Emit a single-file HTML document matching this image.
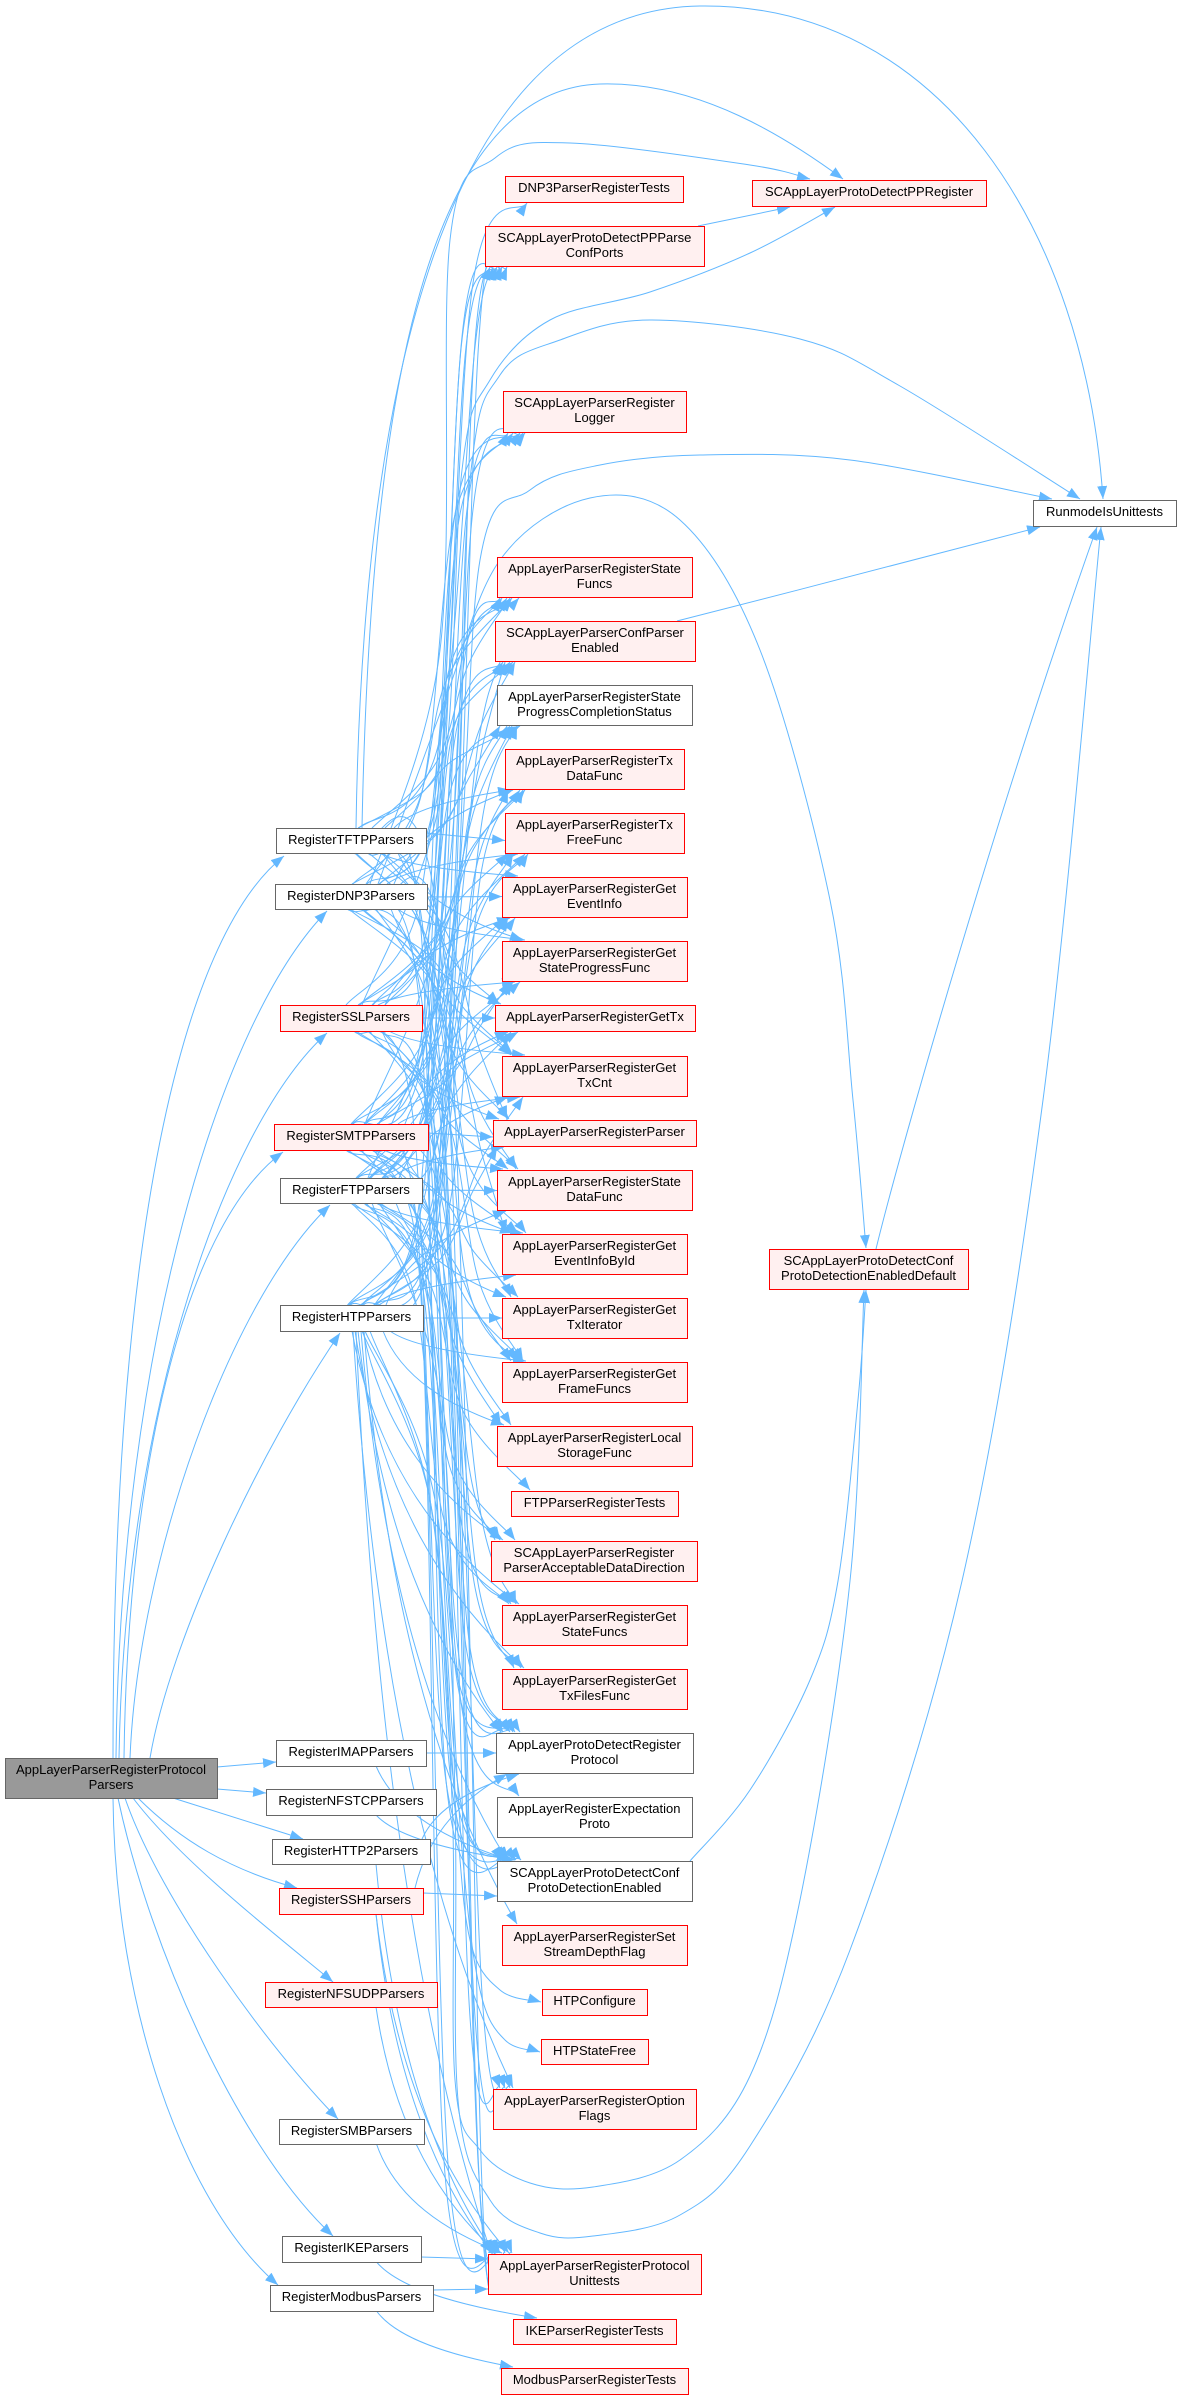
<!DOCTYPE html>
<html><head><meta charset="utf-8">
<style>
html,body{margin:0;padding:0;background:#fff;}
svg{display:block}
text{font-family:"Liberation Sans",Arial,sans-serif;font-size:13px;fill:#000}
.r{fill:#fff0f0;stroke:#ff0000;stroke-width:1}
.g{fill:#fff;stroke:#666;stroke-width:1}
.root{fill:#999;stroke:#666;stroke-width:1}
</style></head>
<body>
<svg id="svg" width="1181" height="2399" viewBox="0 0 1181 2399" xmlns="http://www.w3.org/2000/svg">
<defs><marker id="a" markerUnits="userSpaceOnUse" markerWidth="13" markerHeight="10" refX="13" refY="5" orient="auto"><path d="M0,0L13,5L0,10z" fill="#63b8ff"/></marker></defs>
<g id="edges" fill="none" stroke="#63b8ff" stroke-width="1"></g>
<g text-anchor="middle">
<rect class="root" x="5.5" y="1758.5" width="212" height="40"/><text x="111" y="1774">AppLayerParserRegisterProtocol</text><text x="111" y="1789">Parsers</text>

<rect class="g" x="276.5" y="828.5" width="150" height="25"/><text x="351" y="844">RegisterTFTPParsers</text>
<rect class="g" x="275.5" y="884.5" width="152" height="25"/><text x="351" y="900">RegisterDNP3Parsers</text>
<rect class="r" x="280.5" y="1005.5" width="142" height="26"/><text x="351" y="1021">RegisterSSLParsers</text>
<rect class="r" x="274.5" y="1124.5" width="154" height="26"/><text x="351" y="1140">RegisterSMTPParsers</text>
<rect class="g" x="280.5" y="1178.5" width="142" height="25"/><text x="351" y="1194">RegisterFTPParsers</text>
<rect class="g" x="280.5" y="1305.5" width="143" height="26"/><text x="351.5" y="1321">RegisterHTPParsers</text>
<rect class="g" x="276.5" y="1740.5" width="150" height="26"/><text x="351" y="1756">RegisterIMAPParsers</text>
<rect class="g" x="266.5" y="1789.5" width="170" height="26"/><text x="351" y="1805">RegisterNFSTCPParsers</text>
<rect class="g" x="272.5" y="1839.5" width="158" height="25"/><text x="351" y="1855">RegisterHTTP2Parsers</text>
<rect class="r" x="279.5" y="1888.5" width="144" height="26"/><text x="351" y="1904">RegisterSSHParsers</text>
<rect class="r" x="265.5" y="1982.5" width="172" height="25"/><text x="351" y="1998">RegisterNFSUDPParsers</text>
<rect class="g" x="279.5" y="2119.5" width="145" height="25"/><text x="351.5" y="2135">RegisterSMBParsers</text>
<rect class="g" x="282.5" y="2236.5" width="139" height="26"/><text x="351.5" y="2252">RegisterIKEParsers</text>
<rect class="g" x="270.5" y="2285.5" width="163" height="26"/><text x="351.5" y="2301">RegisterModbusParsers</text>

<rect class="r" x="505.5" y="176.5" width="178" height="26"/><text x="594" y="192">DNP3ParserRegisterTests</text>
<rect class="r" x="485.5" y="226.5" width="219" height="40"/><text x="594.5" y="242">SCAppLayerProtoDetectPPParse</text><text x="594.5" y="257">ConfPorts</text>
<rect class="r" x="503.5" y="391.5" width="183" height="41"/><text x="594.5" y="407">SCAppLayerParserRegister</text><text x="594.5" y="422">Logger</text>
<rect class="r" x="497.5" y="557.5" width="195" height="40"/><text x="594.5" y="573">AppLayerParserRegisterState</text><text x="594.5" y="588">Funcs</text>
<rect class="r" x="495.5" y="621.5" width="200" height="40"/><text x="595" y="637">SCAppLayerParserConfParser</text><text x="595" y="652">Enabled</text>
<rect class="g" x="497.5" y="685.5" width="195" height="40"/><text x="594.5" y="701">AppLayerParserRegisterState</text><text x="594.5" y="716">ProgressCompletionStatus</text>
<rect class="r" x="505.5" y="749.5" width="179" height="40"/><text x="594.5" y="765">AppLayerParserRegisterTx</text><text x="594.5" y="780">DataFunc</text>
<rect class="r" x="505.5" y="813.5" width="179" height="40"/><text x="594.5" y="829">AppLayerParserRegisterTx</text><text x="594.5" y="844">FreeFunc</text>
<rect class="r" x="502.5" y="877.5" width="185" height="40"/><text x="594.5" y="893">AppLayerParserRegisterGet</text><text x="594.5" y="908">EventInfo</text>
<rect class="r" x="502.5" y="941.5" width="185" height="40"/><text x="594.5" y="957">AppLayerParserRegisterGet</text><text x="594.5" y="972">StateProgressFunc</text>
<rect class="r" x="495.5" y="1005.5" width="200" height="26"/><text x="595" y="1021">AppLayerParserRegisterGetTx</text>
<rect class="r" x="502.5" y="1056.5" width="185" height="40"/><text x="594.5" y="1072">AppLayerParserRegisterGet</text><text x="594.5" y="1087">TxCnt</text>
<rect class="r" x="493.5" y="1120.5" width="203" height="26"/><text x="594.5" y="1136">AppLayerParserRegisterParser</text>
<rect class="r" x="497.5" y="1170.5" width="195" height="40"/><text x="594.5" y="1186">AppLayerParserRegisterState</text><text x="594.5" y="1201">DataFunc</text>
<rect class="r" x="502.5" y="1234.5" width="185" height="40"/><text x="594.5" y="1250">AppLayerParserRegisterGet</text><text x="594.5" y="1265">EventInfoById</text>
<rect class="r" x="502.5" y="1298.5" width="185" height="40"/><text x="594.5" y="1314">AppLayerParserRegisterGet</text><text x="594.5" y="1329">TxIterator</text>
<rect class="r" x="502.5" y="1362.5" width="185" height="40"/><text x="594.5" y="1378">AppLayerParserRegisterGet</text><text x="594.5" y="1393">FrameFuncs</text>
<rect class="r" x="497.5" y="1426.5" width="195" height="40"/><text x="594.5" y="1442">AppLayerParserRegisterLocal</text><text x="594.5" y="1457">StorageFunc</text>
<rect class="r" x="511.5" y="1491.5" width="167" height="25"/><text x="594.5" y="1507">FTPParserRegisterTests</text>
<rect class="r" x="491.5" y="1541.5" width="206" height="40"/><text x="594" y="1557">SCAppLayerParserRegister</text><text x="594" y="1572">ParserAcceptableDataDirection</text>
<rect class="r" x="502.5" y="1605.5" width="185" height="40"/><text x="594.5" y="1621">AppLayerParserRegisterGet</text><text x="594.5" y="1636">StateFuncs</text>
<rect class="r" x="502.5" y="1669.5" width="185" height="40"/><text x="594.5" y="1685">AppLayerParserRegisterGet</text><text x="594.5" y="1700">TxFilesFunc</text>
<rect class="g" x="496.5" y="1733.5" width="197" height="40"/><text x="594.5" y="1749">AppLayerProtoDetectRegister</text><text x="594.5" y="1764">Protocol</text>
<rect class="g" x="497.5" y="1797.5" width="195" height="40"/><text x="594.5" y="1813">AppLayerRegisterExpectation</text><text x="594.5" y="1828">Proto</text>
<rect class="g" x="497.5" y="1861.5" width="195" height="40"/><text x="594.5" y="1877">SCAppLayerProtoDetectConf</text><text x="594.5" y="1892">ProtoDetectionEnabled</text>
<rect class="r" x="502.5" y="1925.5" width="185" height="40"/><text x="594.5" y="1941">AppLayerParserRegisterSet</text><text x="594.5" y="1956">StreamDepthFlag</text>
<rect class="r" x="542.5" y="1989.5" width="105" height="26"/><text x="594.5" y="2005">HTPConfigure</text>
<rect class="r" x="541.5" y="2039.5" width="107" height="25"/><text x="594.5" y="2055">HTPStateFree</text>
<rect class="r" x="493.5" y="2089.5" width="203" height="40"/><text x="594.5" y="2105">AppLayerParserRegisterOption</text><text x="594.5" y="2120">Flags</text>
<rect class="r" x="488.5" y="2254.5" width="213" height="40"/><text x="594.5" y="2270">AppLayerParserRegisterProtocol</text><text x="594.5" y="2285">Unittests</text>
<rect class="r" x="513.5" y="2319.5" width="163" height="25"/><text x="594.5" y="2335">IKEParserRegisterTests</text>
<rect class="r" x="501.5" y="2368.5" width="187" height="26"/><text x="594.5" y="2384">ModbusParserRegisterTests</text>

<rect class="r" x="752.5" y="180.5" width="234" height="26"/><text x="869" y="196">SCAppLayerProtoDetectPPRegister</text>
<rect class="r" x="769.5" y="1249.5" width="199" height="40"/><text x="868.5" y="1265">SCAppLayerProtoDetectConf</text><text x="868.5" y="1280">ProtoDetectionEnabledDefault</text>
<rect class="g" x="1033.5" y="500.5" width="143" height="26"/><text x="1104.5" y="516">RunmodeIsUnittests</text>
</g>
</svg>
<script>
(function(){
var N={
R:[5,1758,217,1798],
TFTP:[276,828,426,853],DNP3:[275,884,427,909],SSL:[280,1005,422,1031],SMTP:[274,1124,428,1150],FTP:[280,1178,422,1203],HTP:[280,1305,423,1331],IMAP:[276,1740,426,1766],NFSTCP:[266,1789,436,1815],HTTP2:[272,1839,430,1864],SSH:[279,1888,423,1914],NFSUDP:[265,1982,437,2007],SMB:[279,2119,424,2144],IKE:[282,2236,421,2262],MOD:[270,2285,433,2311],
dt:[505,176,683,202],pc:[485,226,704,266],lg:[503,391,686,432],sf:[497,557,692,597],ce:[495,621,695,661],ps:[497,685,692,725],td:[505,749,684,789],tf:[505,813,684,853],ei:[502,877,687,917],sp:[502,941,687,981],gt:[495,1005,695,1031],tc:[502,1056,687,1096],rp:[493,1120,696,1146],sd:[497,1170,692,1210],eb:[502,1234,687,1274],ti:[502,1298,687,1338],ff:[502,1362,687,1402],ls:[497,1426,692,1466],ft:[511,1491,678,1516],ad:[491,1541,697,1581],gs:[502,1605,687,1645],tx:[502,1669,687,1709],dp:[496,1733,693,1773],ep:[497,1797,692,1837],cp:[497,1861,692,1901],sdf:[502,1925,687,1965],hc:[542,1989,647,2015],hs:[541,2039,648,2064],of:[493,2089,696,2129],pu:[488,2254,701,2294],it:[513,2319,676,2344],mt:[501,2368,688,2394]
};
var g=document.getElementById('edges');
var NS='http://www.w3.org/2000/svg';
function add(d){var p=document.createElementNS(NS,'path');p.setAttribute('d',d);p.setAttribute('marker-end','url(#a)');g.appendChild(p);}
function r(v){return Math.round(v*10)/10;}
function cr(p){var d='M'+r(p[0][0])+','+r(p[0][1]);for(var i=0;i<p.length-1;i++){var a=p[i-1]||p[i],b=p[i],c=p[i+1],e=p[i+2]||c;d+='C'+r(b[0]+(c[0]-a[0])/6)+','+r(b[1]+(c[1]-a[1])/6)+' '+r(c[0]-(e[0]-b[0])/6)+','+r(c[1]-(e[1]-b[1])/6)+' '+r(c[0])+','+r(c[1]);}return d;}
function cub(sx,sy,ex,ey){var dx=ex-sx,vy=ey-sy;return 'M'+r(sx)+','+r(sy)+'C'+r(sx+0.15*dx)+','+r(sy+0.5*vy)+' '+r(ex-0.45*dx)+','+r(ey-0.2*vy)+' '+r(ex)+','+r(ey);}
var k=0;
function edge(s,t,direct){
 k++;
 var S=N[s],T=N[t];
 var scx=(S[0]+S[2])/2,scy=(S[1]+S[3])/2,tcy=(T[1]+T[3])/2,dy=tcy-scy,h=Math.abs(dy);
 if(h<30){var y1=Math.max(S[1]+5,Math.min(S[3]-5,tcy)),y2=Math.max(T[1]+5,Math.min(T[3]-5,scy));add('M'+S[2]+','+y1+'L'+T[0]+','+y2);return;}
 var up=dy<0,sy=up?S[1]:S[3],ey=up?T[3]+1:T[1]-1;
 var ex=T[0]+3+(k*5)%22,sx;
 if(direct){sx=up?S[2]-8:scx+25;add(cub(sx,sy,ex,ey));return;}
 if(h<130){sx=S[2]-22-(k*7)%25;add(cub(sx,sy,ex,ey));return;}
 if(s==='HTP'&&!up){sx=352+(k*3)%14;add(cub(sx,sy,ex,ey));return;}
 sx=scx-5+(k*13)%40;var bx=436+(k*37)%46,sg=up?-1:1;
 var w1=[sx+(bx-sx)*0.7,sy+sg*Math.min(85,h*0.25)],w2=[bx+(ex-bx)*0.1,ey-sg*Math.min(80,h*0.25)];
 add(cr([[sx,sy],w1,w2,[ex,ey]]));
}
var L={
TFTP:'pc sf ce ps td tf ei sp gt tc rp sd eb dp cp pu',
DNP3:'dt pc lg sf ce ps td tf ei sp gt tc rp sd eb ti ff dp cp pu of',
SSL:'pc lg sf ce ps td tf ei sp gt tc rp sd eb ff ad gs dp cp pu of',
SMTP:'pc lg sf ce ps td tf ei sp gt tc rp sd eb ti ff ls ad gs tx dp cp pu of',
FTP:'pc lg sf ce ps td tf ei sp gt tc rp sd eb ti ff ls ft ad gs tx dp ep cp pu',
HTP:'pc lg sf ce ps td tf ei sp gt tc rp sd eb ti ff ls ad gs tx dp cp sdf of pu',
IMAP:'dp cp',NFSTCP:'cp',HTTP2:'dp pu',SSH:'dp cp pu pu',NFSUDP:'pu',SMB:'pu',IKE:'pu it',MOD:'pu mt'};
var low=['IMAP','NFSTCP','HTTP2','SSH','NFSUDP','SMB','IKE','MOD'];
Object.keys(L).forEach(function(s){L[s].split(' ').forEach(function(t){edge(s,t,low.indexOf(s)>=0);});});
['M113,1758C113,1200 190,930 284,856',
 'M116,1758C120,1350 220,1020 327,911',
 'M119,1758C125,1400 230,1120 327,1033',
 'M124,1758C128,1450 190,1220 283,1152',
 'M130,1758C138,1560 230,1300 330,1205',
 'M150,1758C170,1640 260,1450 340,1333',
 'M217,1767L276,1762',
 'M217,1789L266,1793',
 'M173,1798L303,1839',
 'M138,1798C180,1840 230,1870 297,1888',
 'M133,1798C180,1860 270,1930 333,1982',
 'M125,1798C160,1900 270,2050 338,2119',
 'M118,1798C150,1950 240,2150 333,2236',
 'M113,1798C115,2000 180,2200 278,2285',
 'M356,828C362,430 430,10 700,6C940,3 1085,230 1103,499',
 'M362,828C370,420 420,90 600,84C700,81 790,140 843,179',
 'M698,226L790,207',
 'M677,621C800,590 950,550 1040,527',
 'M876,1249C900,1150 1000,800 1097,527'
].forEach(add);
add(cr([[370,884],[440,650],[450,240],[495,158],[570,143],[750,165],[810,179]]));
add(cr([[362,1005],[440,800],[462,470],[490,380],[550,320],[650,292],[750,253],[835,207]]));
add(cr([[365,1124],[445,900],[470,480],[500,375],[560,340],[650,320],[800,339],[900,386],[1080,499]]));
add(cr([[368,1178],[450,950],[480,560],[530,490],[600,465],[700,455],[850,460],[1052,499]]));
add(cr([[378,884],[445,700],[500,560],[590,498],[680,520],[760,650],[830,900],[853,1100],[866,1248]]));
add(cr([[690,1861],[750,1790],[810,1680],[838,1581],[858,1400],[866,1290]]));
add(cr([[370,1331],[430,1500],[452,1800],[455,2080],[480,2150],[530,2183],[593,2187],[680,2160],[750,2076],[800,1900],[850,1581],[864,1290]]));
add(cr([[372,1203],[440,1400],[455,1800],[458,2100],[490,2200],[540,2233],[593,2236],[680,2215],[750,2146],[850,1950],[962,1581],[1043,1100],[1101,527]]));
add(cr([[362,1331],[430,1500],[455,1800],[470,1940],[500,1990],[541,2002]]));
add(cr([[365,1331],[435,1500],[462,1850],[480,1990],[505,2040],[540,2052]]));
})();
</script>
</body></html>
